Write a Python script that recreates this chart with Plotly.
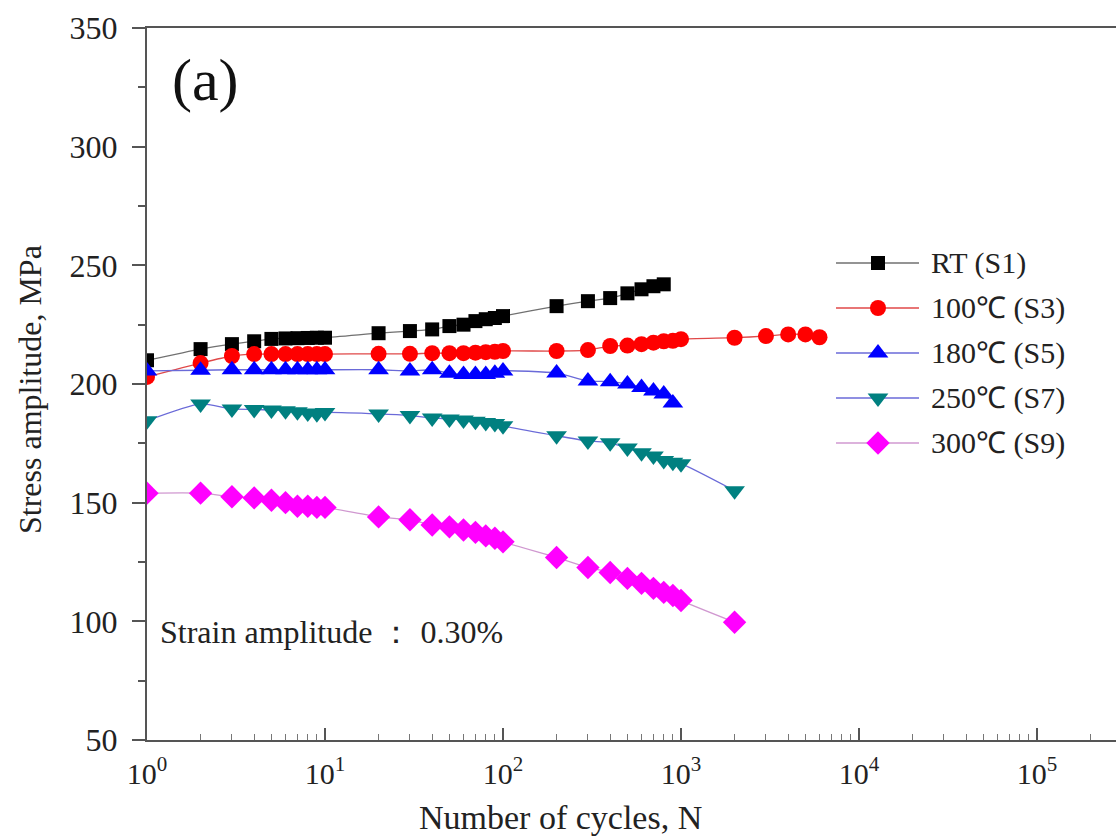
import plotly.graph_objects as go

# ---------------- data ----------------
rt_n = [1, 2, 3, 4, 5, 6, 7, 8, 9, 10, 20, 30, 40, 50, 60, 70, 80, 90, 100,
        200, 300, 400, 500, 600, 700, 800]
rt_s = [210, 214.7, 216.8, 218, 219, 219.2, 219.3, 219.4, 219.5, 219.5, 221.4, 222.3, 223, 224.4,
        225, 226.5, 227.3, 227.8, 228.6, 232.8, 234.9, 236.2, 238.2, 239.9, 241.2, 242]

t100_n = [1, 2, 3, 4, 5, 6, 7, 8, 9, 10, 20, 30, 40, 50, 60, 70, 80, 90, 100,
          200, 300, 400, 500, 600, 700, 800, 900, 1000, 2000, 3000, 4000, 5000, 6000]
t100_s = [203, 208.8, 211.8, 212.6, 212.6, 212.6, 212.6, 212.6, 212.6, 212.6, 212.7, 212.7, 213, 213,
          213, 213.2, 213.4, 213.6, 213.9, 213.9, 214.3, 216, 216.2, 216.8, 217.4, 218, 218.2, 218.9,
          219.5, 220.2, 220.9, 220.9, 219.7]

t180_n = [1, 2, 3, 4, 5, 6, 7, 8, 9, 10, 20, 30, 40, 50, 60, 70, 80, 90, 100,
          200, 300, 400, 500, 600, 700, 800, 900]
t180_s = [205.5, 205.8, 206, 206, 206, 206, 206, 206, 206, 206, 206, 205.5, 206, 204.5,
          204, 204, 204, 204.5, 205.5, 204.6, 201.3, 201, 200, 198.5, 197, 195.8, 192]

t250_n = [1, 2, 3, 4, 5, 6, 7, 8, 9, 10, 20, 30, 40, 50, 60, 70, 80, 90, 100,
          200, 300, 400, 500, 600, 700, 800, 900, 1000, 2000]
t250_s = [184.5, 191.6, 189.5, 189.3, 189, 188.7, 188.3, 187.8, 187.5, 188, 187.4, 186.7, 185.7, 185.3,
          184.8, 184.3, 183.8, 183.4, 182.4, 178.2, 176, 175.2, 173, 171, 169.7, 167.8, 167, 166.4, 155]

t300_n = [1, 2, 3, 4, 5, 6, 7, 8, 9, 10, 20, 30, 40, 50, 60, 70, 80, 90, 100,
          200, 300, 400, 500, 600, 700, 800, 900, 1000, 2000]
t300_s = [154, 154, 152.5, 152, 151, 150, 148.5, 148.5, 148, 148, 144, 142.8, 140.6, 139.8,
          138.5, 137.5, 136, 135, 133.5, 126.9, 122.7, 120.6, 118.1, 116, 113.9, 112.2, 110.9, 108.8, 99.6]

series_names = ["RT (S1)", "100℃ (S3)", "180℃ (S5)", "250℃ (S7)", "300℃ (S9)"]

x_tickvals = [1, 10, 100, 1000, 10000, 100000]
x_ticktext = ["10<sup>0</sup>", "10<sup>1</sup>", "10<sup>2</sup>", "10<sup>3</sup>",
              "10<sup>4</sup>", "10<sup>5</sup>"]
x_minor = [k * 10 ** e for e in range(0, 6) for k in range(2, 10)]

# ---------------- styling ----------------
FONT = "Liberation Serif, Times New Roman, serif"
styles = [
    dict(color="#000000", line="#707070", symbol="square", size=14),
    dict(color="#ff0000", line="#e04848", symbol="circle", size=16),
    dict(color="#0000ff", line="#6a6ad8", symbol="triangle-up", size=18),
    dict(color="#008080", line="#6a6ad8", symbol="triangle-down", size=18),
    dict(color="#ff00ff", line="#d098d0", symbol="diamond", size=18),
]

data = [(rt_n, rt_s), (t100_n, t100_s), (t180_n, t180_s), (t250_n, t250_s), (t300_n, t300_s)]

W, H = 1116, 836
L, R, T, B = 147, 0, 28, 96
pw = W - L - R
ph = H - T - B

def px_x(x):
    return (x - L) / pw

def px_y(y):
    return 1 - (y - T) / ph

fig = go.Figure()
for i, ((xn, ys), name, st) in enumerate(zip(data, series_names, styles)):
    fig.add_trace(go.Scatter(
        x=xn, y=ys, name=name, mode="lines+markers", showlegend=False,
        line=dict(color=st["line"], width=1.3, shape="spline", smoothing=0.6),
        marker=dict(color=st["color"], symbol=st["symbol"], size=st["size"], line=dict(width=0)),
    ))

# ---------------- Origin-style legend (line - marker - line, then text) ----------------
legend_rows = [263, 308, 353, 398, 443]
for row, st, name in zip(legend_rows, styles, series_names):
    fig.add_shape(type="line", xref="paper", yref="paper", layer="below",
                  x0=px_x(836), x1=px_x(919), y0=px_y(row), y1=px_y(row),
                  line=dict(color=st["line"], width=1.3))
    fig.add_trace(go.Scatter(
        x=[px_x(878)], y=[px_y(row)], xaxis="x2", yaxis="y2", mode="markers",
        showlegend=False, hoverinfo="skip", cliponaxis=False,
        marker=dict(color=st["color"], symbol=st["symbol"], size=st["size"], line=dict(width=0)),
    ))
    fig.add_annotation(text=name, xref="paper", yref="paper", x=px_x(929), y=px_y(row),
                       xanchor="left", yanchor="middle", showarrow=False,
                       font=dict(family=FONT, size=30, color="#222222"))

fig.update_layout(
    width=W, height=H,
    margin=dict(l=L, r=R, t=T, b=B),
    paper_bgcolor="white", plot_bgcolor="white",
    font=dict(family=FONT, size=30, color="#222222"),
    showlegend=False,
    xaxis=dict(
        type="log", range=[0, 969 / 178], showgrid=False, zeroline=False,
        showline=True, linecolor="#555555", linewidth=2, mirror=True,
        tickmode="array", tickvals=x_tickvals, ticktext=x_ticktext,
        ticks="inside", ticklen=12, tickwidth=1.5, tickcolor="#555555",
        ticklabelstandoff=6,
        minor=dict(tickmode="array", tickvals=x_minor, ticks="inside", ticklen=6,
                   tickwidth=1, tickcolor="#777777", showgrid=False),
        tickfont=dict(family=FONT, size=30, color="#222222"),
    ),
    yaxis=dict(
        range=[50, 350], showgrid=False, zeroline=False,
        showline=True, linecolor="#555555", linewidth=2, mirror=False,
        tickmode="linear", tick0=50, dtick=50,
        ticks="outside", ticklen=13, tickwidth=1.5, tickcolor="#555555",
        ticklabelstandoff=8,
        minor=dict(tick0=75, dtick=25, ticks="outside", ticklen=7, tickwidth=1.5,
                   tickcolor="#555555", showgrid=False),
        tickfont=dict(family=FONT, size=32, color="#222222"),
    ),
    xaxis2=dict(overlaying="x", range=[0, 1], visible=False, fixedrange=True),
    yaxis2=dict(overlaying="y", range=[0, 1], visible=False, fixedrange=True),
)

fig.add_annotation(text="Number of cycles, N", xref="paper", yref="paper",
                   x=px_x(560), y=px_y(817), xanchor="center", yanchor="middle", showarrow=False,
                   font=dict(family=FONT, size=34, color="#222222"))
fig.add_annotation(text="Stress amplitude, MPa", xref="paper", yref="paper",
                   x=px_x(30), y=px_y(390), xanchor="center", yanchor="middle", showarrow=False,
                   textangle=-90, font=dict(family=FONT, size=32, color="#222222"))
fig.add_annotation(text="(a)", xref="paper", yref="paper",
                   x=px_x(205), y=px_y(80), xanchor="center", yanchor="middle", showarrow=False,
                   font=dict(family=FONT, size=60, color="#111111"))
fig.add_annotation(text="Strain amplitude ： 0.30%", xref="paper", yref="paper",
                   x=px_x(158), y=px_y(632), xanchor="left", yanchor="middle", showarrow=False,
                   font=dict(family=FONT, size=32, color="#222222"))

fig.write_html("out.html", post_script="document.body.style.margin='0px';",
               config={"displayModeBar": False})
